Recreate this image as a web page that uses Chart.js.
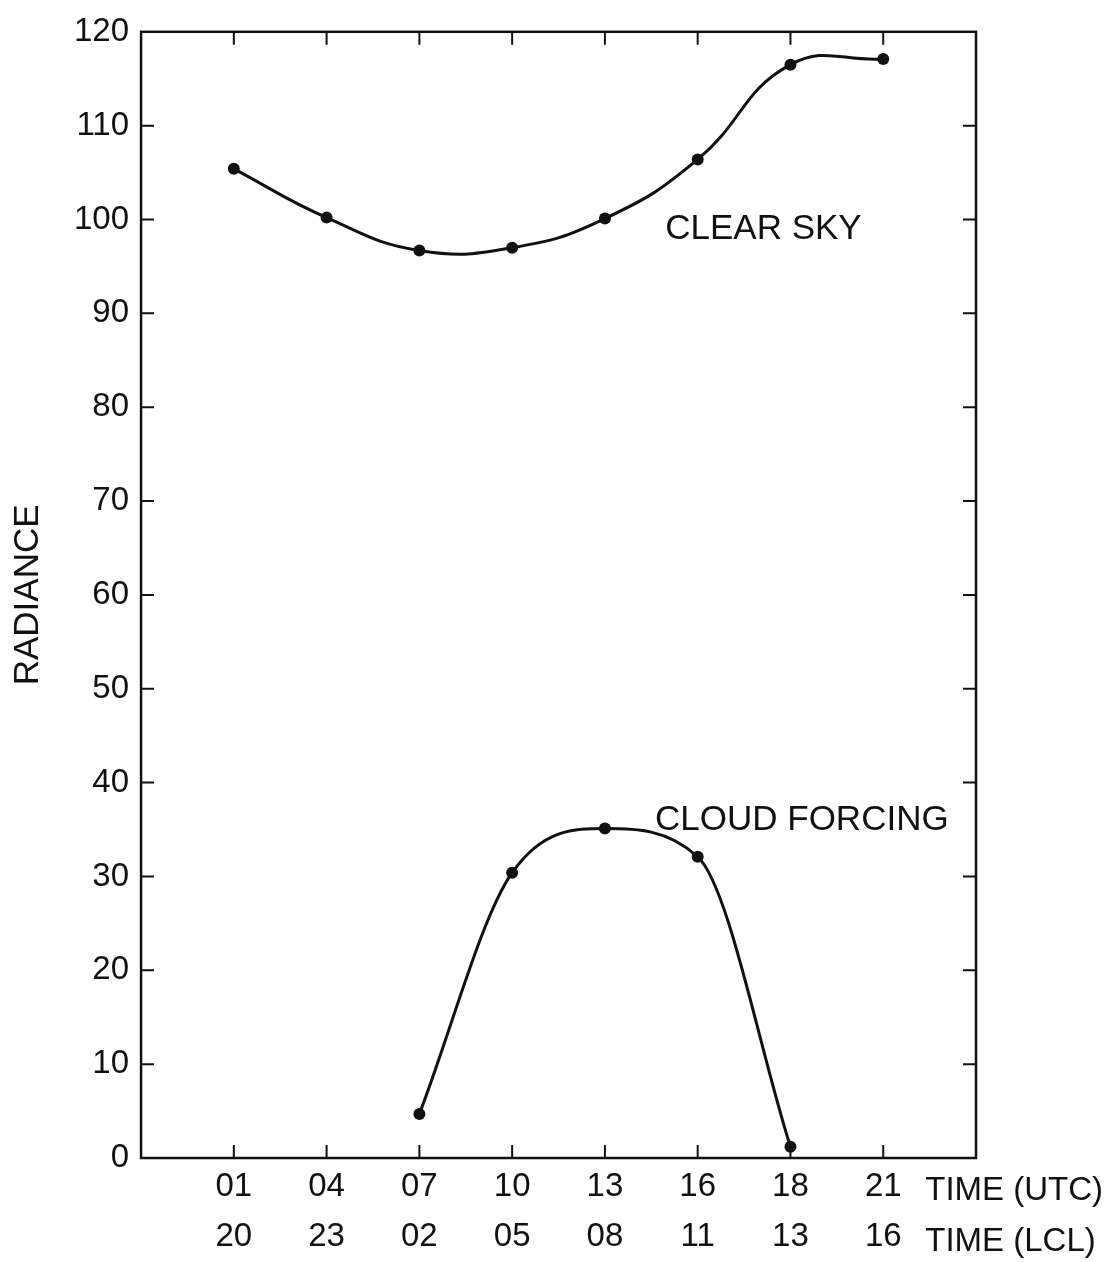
<!DOCTYPE html>
<html>
<head>
<meta charset="utf-8">
<script src="https://cdn.jsdelivr.net/npm/chart.js@4/dist/chart.umd.min.js"></script>
<style>
  html, body { margin: 0; padding: 0; background: #fff; }
  #wrap { width: 1112px; height: 1262px; }
</style>
</head>
<body>
<div id="wrap"><canvas id="radChart" width="1112" height="1262"></canvas></div>
<script>
// tick labels along the time axis
const utcTimes = ['01', '04', '07', '10', '13', '16', '18', '21']
const lclTimes = ['20', '23', '02', '05', '08', '11', '13', '16']

// radiance
const clearSky = [105.4, 100.2, 96.7, 97.0, 100.1, 106.4, 116.5, 117.1]
const cloudForcing = [null, null, 4.7, 30.4, 35.1, 32.1, 1.2, null]

const yTicks = [0, 10, 20, 30, 40, 50, 60, 70, 80, 90, 100, 110, 120]

const ink = '#111'
const font = 'Liberation Sans, Arial, Helvetica, sans-serif'

const toPoints = arr => arr.map((v, i) => ({ x: i + 1, y: v }))

// frame, inward ticks and text labels
const framePlugin = {
    id: 'frame',
    afterDraw(chart) {
        const ctx = chart.ctx
        const area = chart.chartArea
        const xs = chart.scales.x
        const ys = chart.scales.y
        const tl = 13
        ctx.save()
        ctx.strokeStyle = ink
        ctx.lineWidth = 2.5
        ctx.strokeRect(area.left, area.top, area.right - area.left, area.bottom - area.top)
        ctx.lineWidth = 2
        ctx.beginPath()
        utcTimes.forEach((t, i) => {
            const px = xs.getPixelForValue(i + 1)
            ctx.moveTo(px, area.bottom)
            ctx.lineTo(px, area.bottom - tl)
            ctx.moveTo(px, area.top)
            ctx.lineTo(px, area.top + tl)
        })
        yTicks.slice(1, -1).forEach(v => {
            const py = ys.getPixelForValue(v)
            ctx.moveTo(area.left, py)
            ctx.lineTo(area.left + tl, py)
            ctx.moveTo(area.right, py)
            ctx.lineTo(area.right - tl, py)
        })
        ctx.stroke()

        ctx.fillStyle = ink
        ctx.textBaseline = 'middle'
        ctx.textAlign = 'left'
        ctx.font = '35px ' + font
        ctx.fillText('CLEAR SKY', xs.getPixelForValue(5.65), ys.getPixelForValue(99.0))
        ctx.fillText('CLOUD FORCING', xs.getPixelForValue(5.54), ys.getPixelForValue(36.0))

        ctx.font = '33px ' + font
        const tx = xs.getPixelForValue(8) + 42
        ctx.fillText('TIME (UTC)', tx, area.bottom + 33)
        ctx.fillText('TIME (LCL)', tx, area.bottom + 84)
        ctx.restore()
    }
}

const radChart = new Chart(document.getElementById('radChart'), {
    type: 'line',
    data: {
        datasets: [{
            label: 'CLEAR SKY',
            data: toPoints(clearSky),
            borderColor: ink,
            backgroundColor: ink,
            borderWidth: 3,
            pointRadius: 6,
            pointBorderWidth: 0,
            tension: 0.45,
            fill: false
        }, {
            label: 'CLOUD FORCING',
            data: toPoints(cloudForcing),
            borderColor: ink,
            backgroundColor: ink,
            borderWidth: 3,
            pointRadius: 6,
            pointBorderWidth: 0,
            cubicInterpolationMode: 'monotone',
            spanGaps: false,
            fill: false
        }]
    },
    options: {
        responsive: false,
        animation: false,
        layout: { padding: { left: 7, right: 136, top: 4, bottom: -4 } },
        plugins: {
            legend: { display: false },
            tooltip: { enabled: false }
        },
        scales: {
            x: {
                type: 'linear',
                min: 0,
                max: 9,
                grid: { display: false, drawTicks: false },
                border: { display: false },
                afterBuildTicks: scale => {
                    scale.ticks = utcTimes.map((t, i) => ({ value: i + 1 }))
                },
                ticks: {
                    autoSkip: false,
                    maxRotation: 0,
                    padding: 4,
                    color: ink,
                    font: { family: font, size: 33, lineHeight: 1.515 },
                    callback: (v) => [utcTimes[v - 1], lclTimes[v - 1]]
                }
            },
            y: {
                min: 0,
                max: 120,
                grid: { display: false, drawTicks: false },
                border: { display: false },
                afterBuildTicks: scale => {
                    scale.ticks = yTicks.map(v => ({ value: v }))
                },
                ticks: {
                    padding: 12,
                    color: ink,
                    font: { family: font, size: 33 }
                },
                title: {
                    display: true,
                    text: 'RADIANCE',
                    color: ink,
                    padding: { top: 0, bottom: 13 },
                    font: { family: font, size: 35, lineHeight: 1.2 }
                }
            }
        }
    },
    plugins: [framePlugin]
})
</script>
</body>
</html>
